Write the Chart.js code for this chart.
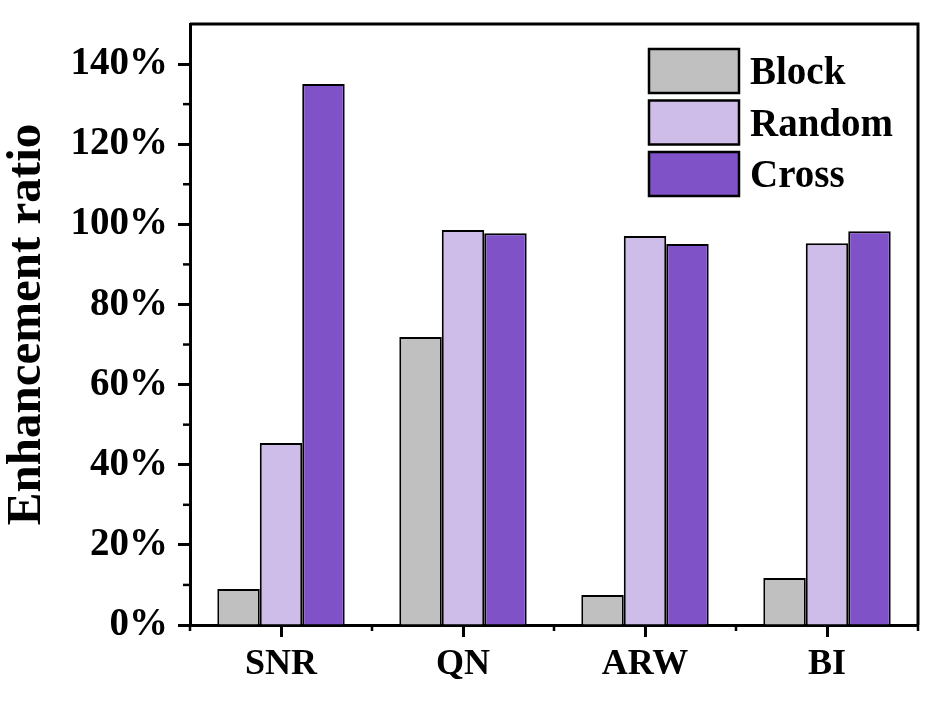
<!DOCTYPE html>
<html>
<head>
<meta charset="utf-8">
<script src="https://cdn.jsdelivr.net/npm/chart.js@4.4.0/dist/chart.umd.min.js"></script>
<style>
  html, body { margin: 0; padding: 0; background: #fff; }
</style>
</head>
<body>
<canvas id="grafica" width="941" height="705"></canvas>
<script>
// datos (en %)
const categorias = ['SNR', 'QN', 'ARW', 'BI'];
const block  = [9.0, 71.9, 7.5, 11.7];
const random = [45.4, 98.6, 97.1, 95.3];
const cross  = [135.0, 97.8, 95.1, 98.3];
const series = ['Block', 'Random', 'Cross'];
const colores = ['#c0c0c0', '#cebde9', '#8052c7'];
const ticksY = [0, 20, 40, 60, 80, 100, 120, 140];

const fuente = 'Liberation Serif, Times New Roman, serif';

// marco superior/derecho, ticks menores y leyenda dentro del area
const marcoPlugin = {
  id: 'marco',
  afterDraw(chart) {
    const ctx = chart.ctx;
    const a = chart.chartArea;
    const y = chart.scales.y;
    ctx.save();
    ctx.strokeStyle = '#000';
    ctx.lineWidth = 3;
    ctx.beginPath();
    ctx.moveTo(a.left, a.top);
    ctx.lineTo(a.right, a.top);
    ctx.lineTo(a.right, a.bottom);
    ctx.stroke();

    // ticks menores del eje y
    ctx.lineWidth = 2.5;
    for (let i = 0; i < ticksY.length - 1; i++) {
      const v = (ticksY[i] + ticksY[i + 1]) / 2;
      const py = y.getPixelForValue(v);
      ctx.beginPath();
      ctx.moveTo(a.left - 7, py);
      ctx.lineTo(a.left, py);
      ctx.stroke();
    }
    // ticks menores del eje x (bordes de categoria)
    const paso = (a.right - a.left) / categorias.length;
    for (let i = 0; i <= categorias.length; i++) {
      const px = a.left + i * paso;
      ctx.beginPath();
      ctx.moveTo(px, a.bottom);
      ctx.lineTo(px, a.bottom + 6);
      ctx.stroke();
    }

    // leyenda
    const x0 = a.left + 459, y0 = a.top + 25;
    ctx.font = 'bold 39px ' + fuente;
    ctx.textBaseline = 'middle';
    ctx.textAlign = 'left';
    chart.data.datasets.forEach((ds, i) => {
      const by = y0 + i * 51.5;
      ctx.fillStyle = ds.backgroundColor;
      ctx.fillRect(x0, by, 90, 44);
      ctx.lineWidth = 2.5;
      ctx.strokeStyle = '#000';
      ctx.strokeRect(x0, by, 90, 44);
      ctx.fillStyle = '#000';
      ctx.fillText(ds.label, x0 + 101, by + 25);
    });
    ctx.restore();
  }
};

new Chart(document.getElementById('grafica').getContext('2d'), {
  type: 'bar',
  data: {
    labels: categorias,
    datasets: [block, random, cross].map((d, i) => ({
      label: series[i],
      data: d,
      backgroundColor: colores[i],
      borderColor: '#000',
      borderWidth: 2,
      categoryPercentage: 0.7,
      barPercentage: 1.0
    }))
  },
  options: {
    responsive: false,
    animation: false,
    devicePixelRatio: 1,
    layout: { padding: { top: 24, right: 23, left: 0, bottom: 0 } },
    plugins: { legend: { display: false }, tooltip: { enabled: false } },
    scales: {
      x: {
        afterFit(s) { s.height = 80; s.paddingLeft = 0; s.paddingRight = 0; },
        grid: { display: true, drawOnChartArea: false, offset: false, tickLength: 12, tickWidth: 3, tickColor: '#000' },
        border: { color: '#000', width: 3 },
        ticks: { color: '#000', padding: 6, font: { family: fuente, size: 36, weight: 'bold' } }
      },
      y: {
        min: 0,
        max: 150,
        afterFit(s) { s.width = 190; s.paddingTop = 0; s.paddingBottom = 0; },
        grid: { display: true, drawOnChartArea: false, tickLength: 12, tickWidth: 3, tickColor: '#000' },
        border: { color: '#000', width: 3 },
        ticks: {
          stepSize: 20,
          includeBounds: false,
          color: '#000',
          padding: 10,
          font: { family: fuente, size: 39, weight: 'bold' },
          callback: v => v + '%'
        },
        title: {
          display: true,
          text: 'Enhancement ratio',
          color: '#000',
          padding: 0,
          font: { family: fuente, size: 49, weight: 'bold', lineHeight: 1.1 }
        }
      }
    }
  },
  plugins: [marcoPlugin]
});
</script>
</body>
</html>
